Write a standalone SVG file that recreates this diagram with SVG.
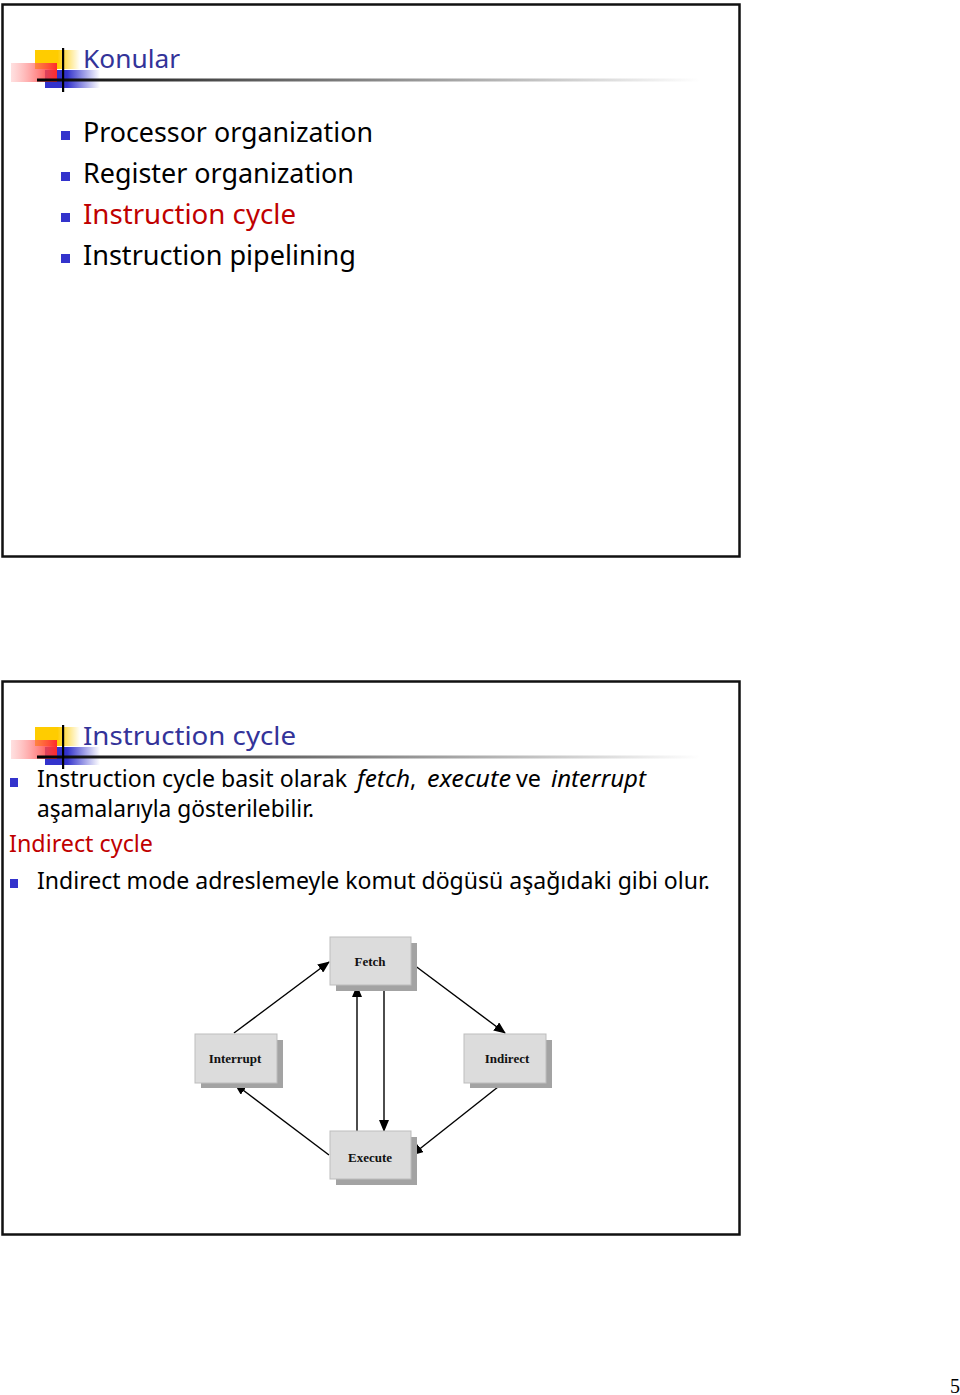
<svg xmlns="http://www.w3.org/2000/svg" width="960" height="1395" viewBox="0 0 960 1395">
<style>
.frame{fill:#fff;stroke:#111;stroke-width:2.5}
.title{font-family:"Noto Sans","DejaVu Sans",sans-serif;font-size:26px;fill:#333399}
.item{font-family:"Noto Sans","DejaVu Sans",sans-serif;font-size:27px;fill:#000}
.body{font-family:"Noto Sans","DejaVu Sans",sans-serif;font-size:23px;fill:#000}
.red{fill:#c00000}
.it{font-style:italic}
.bul{fill:#3333cc}
.box{fill:#dcdcdc;stroke:#bdbdbd;stroke-width:1}
.shadow{fill:#a3a3a3}
.lbl{font-family:"Liberation Serif","Times New Roman",serif;font-weight:bold;font-size:13px;fill:#111;text-anchor:middle}
.conn{stroke:#000;stroke-width:1.4;fill:none;marker-end:url(#ah)}
.pg{font-family:"Liberation Serif",serif;font-size:20px;fill:#000}
</style>
<defs>
<linearGradient id="gy" x1="0" x2="1" y1="0" y2="0"><stop offset="0" stop-color="#ffcc00"/><stop offset="0.5" stop-color="#ffcc00"/><stop offset="1" stop-color="#ffcc00" stop-opacity="0"/></linearGradient>
<linearGradient id="gr" x1="0" x2="1" y1="0" y2="0"><stop offset="0" stop-color="#ff9999" stop-opacity="0.3"/><stop offset="1" stop-color="#ff2a2a"/></linearGradient>
<linearGradient id="gb" x1="0" x2="1" y1="0" y2="0"><stop offset="0" stop-color="#3333cc"/><stop offset="0.4" stop-color="#3333cc"/><stop offset="1" stop-color="#3333cc" stop-opacity="0"/></linearGradient>
<linearGradient id="gl" x1="0" x2="1" y1="0" y2="0"><stop offset="0" stop-color="#000"/><stop offset="0.3" stop-color="#555"/><stop offset="1" stop-color="#fff"/></linearGradient>
<g id="logo">
<rect x="35" y="50" width="45" height="19" fill="url(#gy)"/>
<rect x="45" y="70" width="55" height="18" fill="url(#gb)"/>
<rect x="11" y="63" width="46" height="19" fill="url(#gr)"/>
<rect x="37" y="78.5" width="663" height="3" fill="url(#gl)"/>
<rect x="62" y="48" width="2.2" height="44" fill="#000"/>
</g>
<marker id="ah" markerWidth="12" markerHeight="10" refX="11" refY="5" orient="auto" markerUnits="userSpaceOnUse"><path d="M0,0 L12,5 L0,10 z" fill="#000"/></marker>
</defs>
<rect width="960" height="1395" fill="#fff"/>

<g id="slide1">
<rect class="frame" x="2.5" y="4.5" width="737" height="552"/>
<use href="#logo"/>
<text class="title" x="83" y="68" textLength="97" lengthAdjust="spacingAndGlyphs">Konular</text>
<rect class="bul" x="61" y="131" width="9" height="9"/>
<text class="item" x="83" y="142" textLength="290" lengthAdjust="spacingAndGlyphs">Processor organization</text>
<rect class="bul" x="61" y="172" width="9" height="9"/>
<text class="item" x="83" y="183" textLength="271" lengthAdjust="spacingAndGlyphs">Register organization</text>
<rect class="bul" x="61" y="213" width="9" height="9"/>
<text class="item red" x="83" y="224" textLength="213" lengthAdjust="spacingAndGlyphs">Instruction cycle</text>
<rect class="bul" x="61" y="254" width="9" height="9"/>
<text class="item" x="83" y="265" textLength="273" lengthAdjust="spacingAndGlyphs">Instruction pipelining</text>
</g>

<g id="slide2">
<rect class="frame" x="2.5" y="681.5" width="737" height="553"/>
<use href="#logo" y="677"/>
<text class="title" x="83" y="745" textLength="213" lengthAdjust="spacingAndGlyphs">Instruction cycle</text>
<rect class="bul" x="10" y="778" width="8" height="9"/>
<text class="body" x="37" y="787" textLength="310" lengthAdjust="spacingAndGlyphs">Instruction cycle basit olarak</text>
<text class="body it" x="357" y="787" textLength="53" lengthAdjust="spacingAndGlyphs">fetch</text>
<text class="body" x="410" y="787">,</text>
<text class="body it" x="427" y="787" textLength="84" lengthAdjust="spacingAndGlyphs">execute</text>
<text class="body" x="516" y="787" textLength="25" lengthAdjust="spacingAndGlyphs">ve</text>
<text class="body it" x="551" y="787" textLength="95" lengthAdjust="spacingAndGlyphs">interrupt</text>
<text class="body" x="37" y="817" textLength="277" lengthAdjust="spacingAndGlyphs">aşamalarıyla gösterilebilir.</text>
<text class="body red" x="9" y="852" textLength="144" lengthAdjust="spacingAndGlyphs">Indirect cycle</text>
<rect class="bul" x="10" y="879" width="8" height="9"/>
<text class="body" x="37" y="889" textLength="673" lengthAdjust="spacingAndGlyphs">Indirect mode adreslemeyle komut dögüsü aşağıdaki gibi olur.</text>
</g>

<g id="connectors">
<line class="conn" x1="234" y1="1033" x2="329" y2="962"/>
<line class="conn" x1="410" y1="962" x2="505" y2="1033"/>
<line class="conn" x1="503" y1="1083" x2="412" y2="1155"/>
<line class="conn" x1="329" y1="1155" x2="235" y2="1084"/>
<line class="conn" x1="357" y1="1131" x2="357" y2="986"/>
<line class="conn" x1="384" y1="986" x2="384" y2="1131"/>
</g>

<g id="node-fetch">
<rect class="shadow" x="336" y="943" width="81" height="48"/>
<rect class="box" x="330" y="937" width="81" height="48"/>
<text class="lbl" x="370" y="966">Fetch</text>
</g>
<g id="node-interrupt">
<rect class="shadow" x="201" y="1040" width="82" height="48"/>
<rect class="box" x="195" y="1034" width="82" height="49"/>
<text class="lbl" x="235" y="1063">Interrupt</text>
</g>
<g id="node-indirect">
<rect class="shadow" x="470" y="1040" width="82" height="48"/>
<rect class="box" x="464" y="1034" width="82" height="49"/>
<text class="lbl" x="507" y="1063">Indirect</text>
</g>
<g id="node-execute">
<rect class="shadow" x="336" y="1137" width="81" height="48"/>
<rect class="box" x="330" y="1131" width="81" height="48"/>
<text class="lbl" x="370" y="1162">Execute</text>
</g>

<text class="pg" x="950" y="1393">5</text>
</svg>
